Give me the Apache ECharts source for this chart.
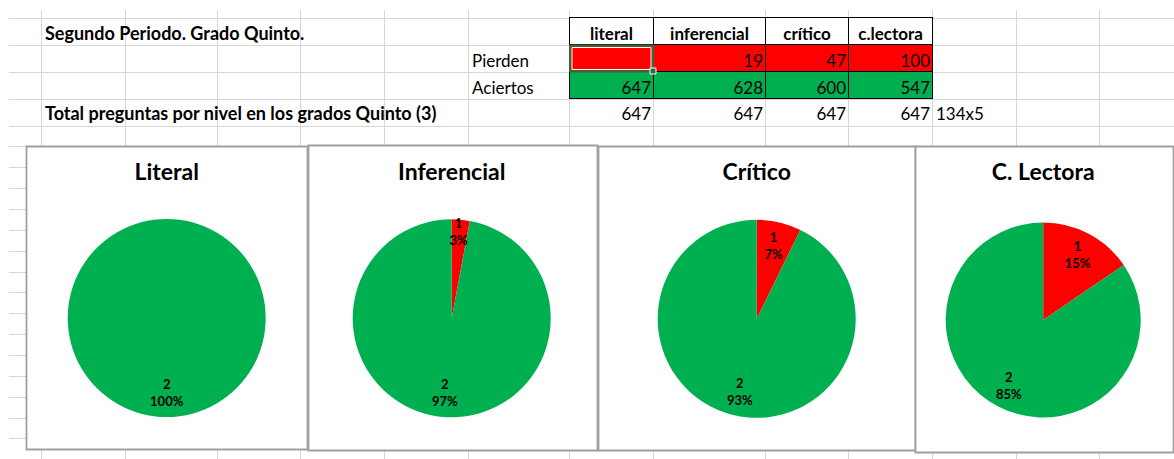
<!DOCTYPE html>
<html>
<head>
<meta charset="utf-8">
<script src="https://cdn.jsdelivr.net/npm/echarts@6/dist/echarts.min.js"></script>
<style>
html,body{margin:0;padding:0;background:#fff;}
#c{width:1174px;height:459px;}
</style>
</head>
<body>
<div id="c"></div>
<script>
// ---------- DATA ----------
const levels = ['literal', 'inferencial', 'crítico', 'c.lectora'];
const chartTitles = ['Literal', 'Inferencial', 'Crítico', 'C. Lectora'];
const pierden = [null, 19, 47, 100];
const aciertos = [647, 628, 600, 547];
const totals = [647, 647, 647, 647];
const sliceNames = ['1', '2'];
const rowLabels = ['Pierden', 'Aciertos'];
const sheetTitle = 'Segundo Periodo. Grado Quinto.';
const totalLabel = 'Total preguntas por nivel en los grados Quinto (3)';
const note = '134x5';

// ---------- LAYOUT / STYLE ----------
const FONT = 'Lato, "Noto Sans", sans-serif';
const RED = '#FF0000', GREEN = '#00B050';
const colX = [41, 125, 217, 300, 384, 468, 569, 653, 765, 848, 932, 1016, 1099];
const rowY = [17.5, 44.5, 71.5, 98.5];
for (let i = 0; i < 17; i++) rowY.push(125.6 + i * 20.85);
const tableCols = [569, 653, 765, 848, 932];
const pieBoxes = [
  {x: 26, y: 146, w: 281, h: 303},
  {x: 308, y: 145, w: 289, h: 305},
  {x: 598, y: 146, w: 317, h: 304},
  {x: 915, y: 146, w: 258, h: 306}
];
const pieGeom = [
  {c: [166.7, 318], r: 99},
  {c: [451.7, 318.3], r: 99},
  {c: [756.7, 318.8], r: 99},
  {c: [1043.2, 320], r: 97.5}
];
const SHEET_FS = 17;

const g = [];
// sheet gridlines
colX.forEach(x => g.push({type: 'line', z: 0, silent: true,
  shape: {x1: x + 0.5, y1: 10, x2: x + 0.5, y2: 459}, style: {stroke: '#d6d6d6', lineWidth: 1}}));
rowY.forEach(y => g.push({type: 'line', z: 0, silent: true,
  shape: {x1: 9, y1: Math.round(y) + 0.5, x2: 1174, y2: Math.round(y) + 0.5}, style: {stroke: '#d6d6d6', lineWidth: 1}}));

// table fills
const tL = tableCols[0], tR = tableCols[tableCols.length - 1];
g.push({type: 'rect', z: 1, silent: true, shape: {x: tL, y: 18, width: tR - tL, height: 27}, style: {fill: '#fff'}});
g.push({type: 'rect', z: 1, silent: true, shape: {x: tL, y: 45, width: tR - tL, height: 27}, style: {fill: RED}});
g.push({type: 'rect', z: 1, silent: true, shape: {x: tL, y: 72, width: tR - tL, height: 27}, style: {fill: GREEN}});
// table borders
[18, 45, 72, 99].forEach(y => g.push({type: 'line', z: 1, silent: true,
  shape: {x1: tL, y1: y - 0.5, x2: tR + 1, y2: y - 0.5}, style: {stroke: '#000', lineWidth: 1}}));
tableCols.forEach(x => g.push({type: 'line', z: 1, silent: true,
  shape: {x1: x + 0.5, y1: 17.5, x2: x + 0.5, y2: 99}, style: {stroke: '#000', lineWidth: 1}}));

function txt(t, x, y, opts) {
  g.push({type: 'text', z: 1, silent: true, x: x, y: y,
    style: {text: String(t), fill: '#000', font: (opts.bold ? 'bold ' : '') + (opts.size || SHEET_FS) + 'px ' + FONT,
      align: opts.align || 'left', verticalAlign: 'middle'}});
}
// sheet texts
txt(sheetTitle, 45, 33, {bold: true, size: 18});
txt(totalLabel, 45, 113, {bold: true, size: 18});
txt(rowLabels[0], 472, 60, {});
txt(rowLabels[1], 472, 87, {});
levels.forEach((l, i) => {
  const x0 = tableCols[i], x1 = tableCols[i + 1];
  txt(l, (x0 + x1) / 2 + 0.5, 33, {bold: true, align: 'center'});
  if (pierden[i] != null) txt(pierden[i], x1 - 2, 60, {align: 'right'});
  txt(aciertos[i], x1 - 2, 87, {align: 'right'});
  txt(totals[i], x1 - 2, 113, {align: 'right'});
});
txt(note, 936, 113, {});
// active cell selection
g.push({type: 'rect', z: 1, silent: true, shape: {x: 570, y: 45.5, width: 83, height: 26}, style: {fill: 'none', stroke: '#217346', lineWidth: 2}});
g.push({type: 'rect', z: 1, silent: true, shape: {x: 572, y: 47.5, width: 79, height: 22}, style: {fill: 'none', stroke: '#fff', lineWidth: 1}});
g.push({type: 'rect', z: 1, silent: true, shape: {x: 650, y: 68, width: 6, height: 6}, style: {fill: '#217346', stroke: '#fff', lineWidth: 1}});

// chart boxes
pieBoxes.forEach(b => g.push({type: 'rect', z: 1, silent: true,
  shape: {x: b.x + 0.5, y: b.y + 0.5, width: b.w, height: b.h}, style: {fill: '#fff', stroke: '#a0a0a0', lineWidth: 1.8}}));

// ---------- SERIES ----------
const series = [];
const titles = [];
levels.forEach((l, i) => {
  const vals = [pierden[i], aciertos[i]];
  const sum = vals.reduce((a, v) => a + (v || 0), 0);
  const data = [];
  vals.forEach((v, k) => {
    if (v == null || v === 0) return;
    const item = {name: sliceNames[k], value: v, itemStyle: {color: k === 0 ? RED : GREEN}};
    if (v / sum < 0.05) item.label = {offset: [0, -12]};
    data.push(item);
  });
  const geo = pieGeom[i];
  series.push({type: 'pie', z: 2, center: geo.c, radius: [0, geo.r], startAngle: 90, clockwise: true,
    animation: false, silent: true, label: {show: false}, labelLine: {show: false},
    itemStyle: {borderWidth: 0}, emphasis: {disabled: true}, data: data});
  series.push({type: 'pie', z: 3, center: geo.c, radius: [geo.r * 0.45, geo.r], startAngle: 90, clockwise: true,
    animation: false, silent: true, percentPrecision: 0,
    itemStyle: {color: 'rgba(0,0,0,0)', borderWidth: 0}, emphasis: {disabled: true},
    label: {show: true, position: 'inside', formatter: '{b}\n{d}%', color: '#000', fontFamily: FONT,
      fontWeight: 'bold', fontSize: 13, lineHeight: 17},
    labelLine: {show: false},
    data: data.map(d => Object.assign({}, d, {itemStyle: {color: 'rgba(0,0,0,0)'}}))});
  titles.push({text: chartTitles[i], left: geo.c[0], top: 159, textAlign: 'center', padding: 0,
    textStyle: {fontFamily: FONT, fontWeight: 'bold', fontSize: 23, color: '#000'}});
});

const chart = echarts.init(document.getElementById('c'), null, {renderer: 'svg'});
chart.setOption({
  animation: false,
  backgroundColor: '#fff',
  title: titles,
  graphic: {elements: g},
  series: series
});
</script>
</body>
</html>
